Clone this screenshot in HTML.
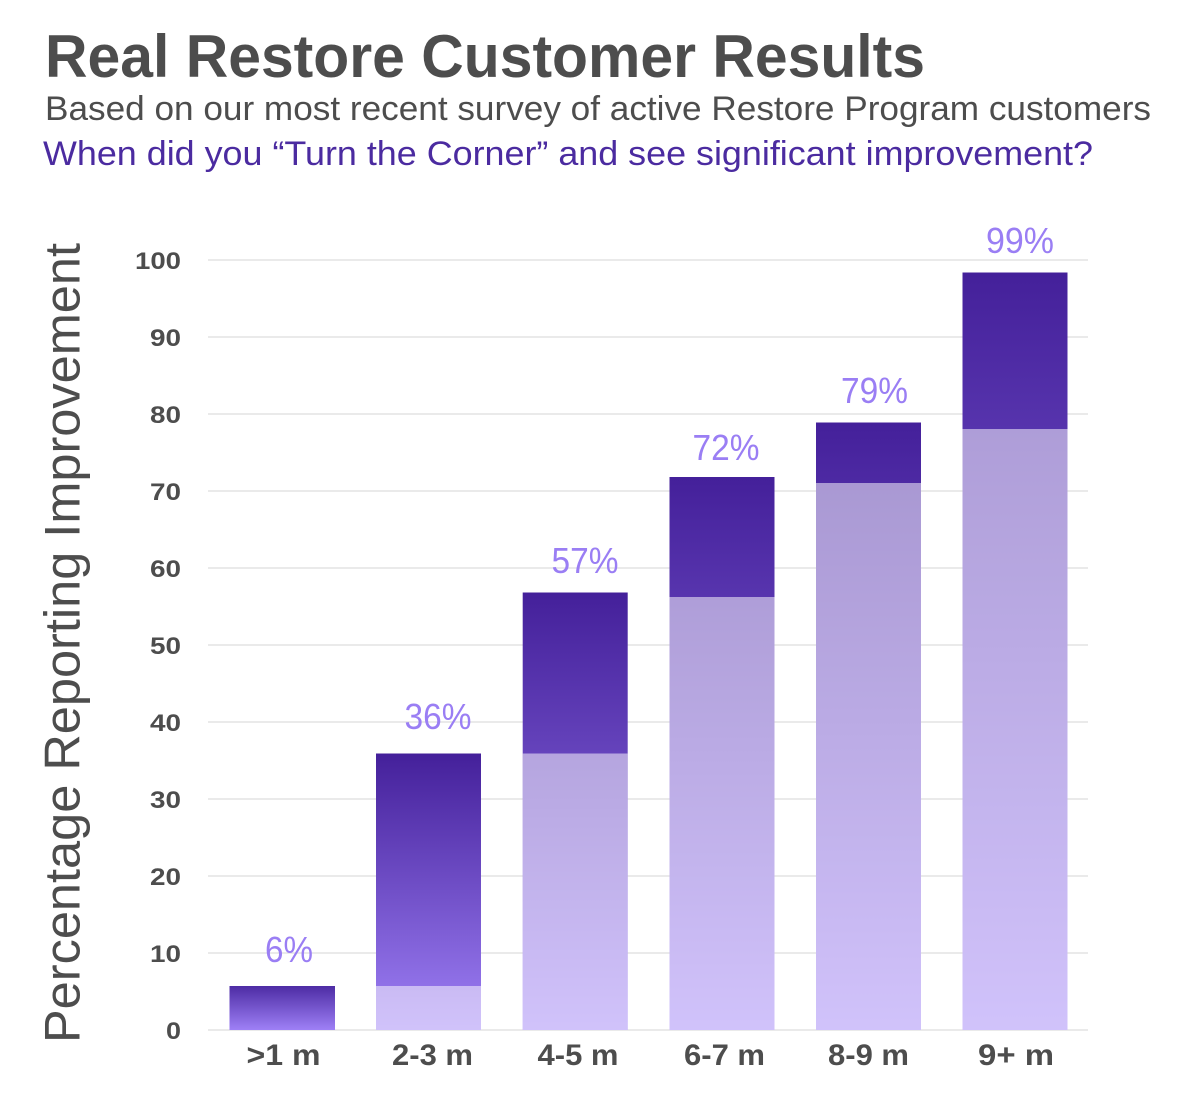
<!DOCTYPE html>
<html>
<head>
<meta charset="utf-8">
<style>
  html,body{margin:0;padding:0;background:#fff;}
  svg{display:block;}
  text{font-family:"Liberation Sans",Arial,sans-serif;}
</style>
</head>
<body>
<svg width="1202" height="1110" viewBox="0 0 1202 1110" xmlns="http://www.w3.org/2000/svg">
  <defs>
    <linearGradient id="g0" gradientUnits="userSpaceOnUse" x1="0" y1="986" x2="0" y2="1030">
      <stop offset="0" stop-color="#4d2ca4"/><stop offset="1" stop-color="#9e80f6"/>
    </linearGradient>
    <linearGradient id="g1" gradientUnits="userSpaceOnUse" x1="0" y1="753.5" x2="0" y2="1030">
      <stop offset="0" stop-color="#44209a"/><stop offset="1" stop-color="#9e80f6"/>
    </linearGradient>
    <linearGradient id="g2" gradientUnits="userSpaceOnUse" x1="0" y1="592.5" x2="0" y2="1030">
      <stop offset="0" stop-color="#44209a"/><stop offset="1" stop-color="#9e80f6"/>
    </linearGradient>
    <linearGradient id="g3" gradientUnits="userSpaceOnUse" x1="0" y1="477" x2="0" y2="1030">
      <stop offset="0" stop-color="#44209a"/><stop offset="1" stop-color="#9e80f6"/>
    </linearGradient>
    <linearGradient id="g4" gradientUnits="userSpaceOnUse" x1="0" y1="422.5" x2="0" y2="1030">
      <stop offset="0" stop-color="#44209a"/><stop offset="1" stop-color="#9e80f6"/>
    </linearGradient>
    <linearGradient id="g5" gradientUnits="userSpaceOnUse" x1="0" y1="272.5" x2="0" y2="1030">
      <stop offset="0" stop-color="#44209a"/><stop offset="1" stop-color="#9e80f6"/>
    </linearGradient>
  </defs>

  <!-- Header -->
  <text x="45" y="77" font-size="60" font-weight="bold" fill="#4d4d4d" textLength="880" lengthAdjust="spacingAndGlyphs">Real Restore Customer Results</text>
  <text x="45" y="120" font-size="34" fill="#4d4d4d" textLength="1106" lengthAdjust="spacingAndGlyphs">Based on our most recent survey of active Restore Program customers</text>
  <text x="43" y="165" font-size="34" fill="#4b2ba0" textLength="1050" lengthAdjust="spacingAndGlyphs">When did you “Turn the Corner” and see significant improvement?</text>

  <!-- Y axis title -->
  <text transform="translate(79.5,1043) rotate(-90)" x="0" y="0" font-size="50" fill="#4d4d4d" textLength="800" lengthAdjust="spacingAndGlyphs">Percentage Reporting Improvement</text>

  <!-- Gridlines -->
  <g stroke="#e3e3e3" stroke-width="1.5">
    <line x1="208" y1="260" x2="1088" y2="260"/>
    <line x1="208" y1="337" x2="1088" y2="337"/>
    <line x1="208" y1="414" x2="1088" y2="414"/>
    <line x1="208" y1="491" x2="1088" y2="491"/>
    <line x1="208" y1="568" x2="1088" y2="568"/>
    <line x1="208" y1="645" x2="1088" y2="645"/>
    <line x1="208" y1="722" x2="1088" y2="722"/>
    <line x1="208" y1="799" x2="1088" y2="799"/>
    <line x1="208" y1="876" x2="1088" y2="876"/>
    <line x1="208" y1="953" x2="1088" y2="953"/>
    <line x1="208" y1="1030" x2="1088" y2="1030"/>
  </g>

  <!-- Y tick labels -->
  <g font-size="24" font-weight="bold" fill="#4d4d4d" text-anchor="end">
    <text x="181" y="269" textLength="46" lengthAdjust="spacingAndGlyphs">100</text>
    <text x="181" y="346" textLength="31" lengthAdjust="spacingAndGlyphs">90</text>
    <text x="181" y="423" textLength="31" lengthAdjust="spacingAndGlyphs">80</text>
    <text x="181" y="500" textLength="31" lengthAdjust="spacingAndGlyphs">70</text>
    <text x="181" y="577" textLength="31" lengthAdjust="spacingAndGlyphs">60</text>
    <text x="181" y="654" textLength="31" lengthAdjust="spacingAndGlyphs">50</text>
    <text x="181" y="731" textLength="31" lengthAdjust="spacingAndGlyphs">40</text>
    <text x="181" y="808" textLength="31" lengthAdjust="spacingAndGlyphs">30</text>
    <text x="181" y="885" textLength="31" lengthAdjust="spacingAndGlyphs">20</text>
    <text x="181" y="962" textLength="31" lengthAdjust="spacingAndGlyphs">10</text>
    <text x="181" y="1039" textLength="15" lengthAdjust="spacingAndGlyphs">0</text>
  </g>

  <!-- Bars -->
  <rect x="229.5" y="986" width="105.5" height="44" fill="url(#g0)"/>

  <rect x="376" y="753.5" width="105" height="276.5" fill="url(#g1)"/>
  <rect x="376" y="986" width="105" height="44" fill="#ffffff" fill-opacity="0.52"/>

  <rect x="522.7" y="592.5" width="105" height="437.5" fill="url(#g2)"/>
  <rect x="522.7" y="753.5" width="105" height="276.5" fill="#ffffff" fill-opacity="0.52"/>

  <rect x="669.5" y="477" width="105" height="553" fill="url(#g3)"/>
  <rect x="669.5" y="597" width="105" height="433" fill="#ffffff" fill-opacity="0.52"/>

  <rect x="816" y="422.5" width="105" height="607.5" fill="url(#g4)"/>
  <rect x="816" y="483" width="105" height="547" fill="#ffffff" fill-opacity="0.52"/>

  <rect x="962.5" y="272.5" width="105" height="757.5" fill="url(#g5)"/>
  <rect x="962.5" y="429" width="105" height="601" fill="#ffffff" fill-opacity="0.52"/>

  <!-- Value labels -->
  <g font-size="36" fill="#9a7ef4" text-anchor="middle">
    <text x="289" y="962" textLength="48" lengthAdjust="spacingAndGlyphs">6%</text>
    <text x="438" y="729" textLength="67" lengthAdjust="spacingAndGlyphs">36%</text>
    <text x="585" y="573" textLength="67" lengthAdjust="spacingAndGlyphs">57%</text>
    <text x="726" y="460" textLength="67" lengthAdjust="spacingAndGlyphs">72%</text>
    <text x="874.5" y="403" textLength="67" lengthAdjust="spacingAndGlyphs">79%</text>
    <text x="1020" y="253" textLength="68" lengthAdjust="spacingAndGlyphs">99%</text>
  </g>

  <!-- X labels -->
  <g font-size="30" font-weight="bold" fill="#4d4d4d" text-anchor="middle">
    <text x="283.5" y="1065" textLength="74" lengthAdjust="spacingAndGlyphs">&gt;1 m</text>
    <text x="432.5" y="1065" textLength="81" lengthAdjust="spacingAndGlyphs">2-3 m</text>
    <text x="578" y="1065" textLength="81" lengthAdjust="spacingAndGlyphs">4-5 m</text>
    <text x="724.5" y="1065" textLength="81" lengthAdjust="spacingAndGlyphs">6-7 m</text>
    <text x="868.5" y="1065" textLength="81" lengthAdjust="spacingAndGlyphs">8-9 m</text>
    <text x="1016" y="1065" textLength="76" lengthAdjust="spacingAndGlyphs">9+ m</text>
  </g>
</svg>
</body>
</html>
